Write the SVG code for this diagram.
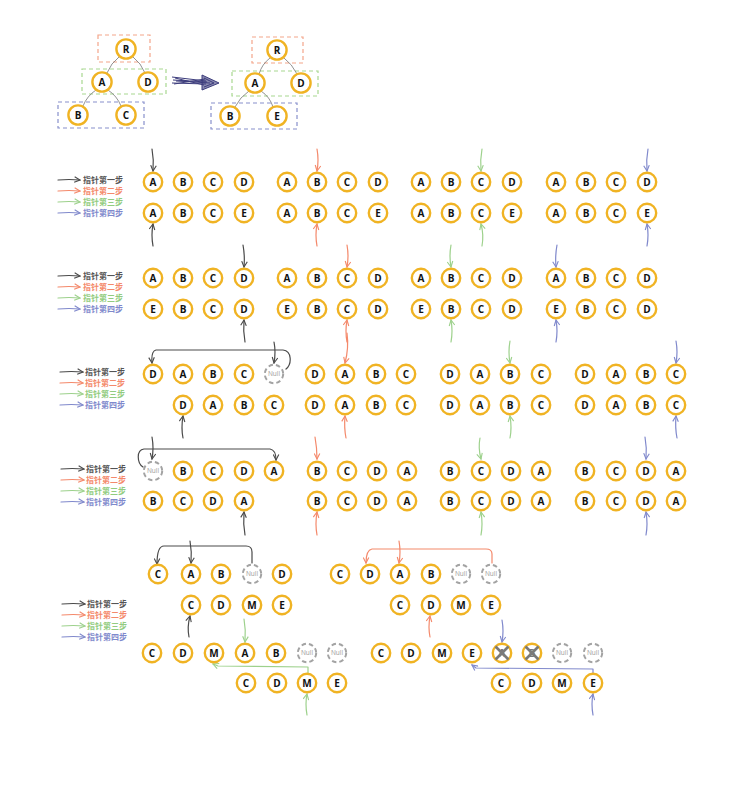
<svg xmlns="http://www.w3.org/2000/svg" width="745" height="785" viewBox="0 0 745 785">
<style>
.n circle{fill:#fff;stroke:#f0b323;stroke-width:2.4}
.n text{font-family:"Open Sans","Liberation Sans",sans-serif;font-weight:700;font-size:10px;text-anchor:middle;fill:#111}
.nl circle{fill:#fff;stroke:#a3a3a3;stroke-width:2;stroke-dasharray:4.5 3}
.nl text{font-family:"Open Sans","Liberation Sans",sans-serif;font-size:6.5px;text-anchor:middle;fill:#9a9a9a}
.nx line{stroke:#7a7a7a;stroke-width:2.6}
.nx text{fill:#777}
.p1,.p2,.p3,.p4{fill:none;stroke-width:1.2;stroke-linecap:round;stroke-linejoin:round}
.p1{stroke:#4a4a4a;marker-end:url(#m1)}
.p2{stroke:#f4896b;marker-end:url(#m2)}
.p3{stroke:#9dd18c;marker-end:url(#m3)}
.p4{stroke:#8089cc;marker-end:url(#m4)}
.lg text{font-family:"Noto Sans CJK SC","Noto Sans",sans-serif;font-size:8px;font-weight:700}
.t1{fill:#555}.t2{fill:#f4896b}.t3{fill:#92cc80}.t4{fill:#7f89cc}
.tl{fill:none;stroke:#777;stroke-width:0.8}
.bx{fill:none;stroke-width:1.2;stroke-dasharray:4 3}
</style>
<defs>
<marker id="m1" viewBox="0 0 10 10" refX="9" refY="5" markerWidth="7" markerHeight="7" markerUnits="userSpaceOnUse" orient="auto"><path d="M1,1 L9,5 L1,9" fill="none" stroke="#4a4a4a" stroke-width="1.6"/></marker>
<marker id="m2" viewBox="0 0 10 10" refX="9" refY="5" markerWidth="7" markerHeight="7" markerUnits="userSpaceOnUse" orient="auto"><path d="M1,1 L9,5 L1,9" fill="none" stroke="#f4896b" stroke-width="1.6"/></marker>
<marker id="m3" viewBox="0 0 10 10" refX="9" refY="5" markerWidth="7" markerHeight="7" markerUnits="userSpaceOnUse" orient="auto"><path d="M1,1 L9,5 L1,9" fill="none" stroke="#9dd18c" stroke-width="1.6"/></marker>
<marker id="m4" viewBox="0 0 10 10" refX="9" refY="5" markerWidth="7" markerHeight="7" markerUnits="userSpaceOnUse" orient="auto"><path d="M1,1 L9,5 L1,9" fill="none" stroke="#8089cc" stroke-width="1.6"/></marker>
</defs>
<rect width="745" height="785" fill="#fff"/>

<!-- trees -->
<g id="tree-left">
<rect class="bx" x="98" y="35" width="52" height="27" stroke="#f4a58a"/>
<rect class="bx" x="82" y="69" width="84" height="25" stroke="#a8d890"/>
<rect class="bx" x="58" y="102" width="86" height="26" stroke="#8890cc"/>
<path class="tl" d="M119,57 Q111,63 107,73 M133,57 Q141,63 145,73 M96,90 Q87,96 83,106 M108,90 Q117,96 121,106"/>
<g id="tl-R" class="n" transform="translate(126 49)"><circle r="9.6"/><text y="3.6">R</text></g>
<g id="tl-A" class="n" transform="translate(102 82)"><circle r="9.6"/><text y="3.6">A</text></g>
<g id="tl-D" class="n" transform="translate(148 82)"><circle r="9.6"/><text y="3.6">D</text></g>
<g id="tl-B" class="n" transform="translate(78 115)"><circle r="9.6"/><text y="3.6">B</text></g>
<g id="tl-C" class="n" transform="translate(126 115)"><circle r="9.6"/><text y="3.6">C</text></g>
</g>
<g id="big-arrow" fill="none" stroke="#3c3c7c" stroke-width="1">
<path d="M172,77 L206,81 M173,80 L207,82 M172,83 L206,84 M175,78 L204,85 M174,84 L205,79 M176,81 L210,83"/>
<path d="M202,75 L219,83 L202,90 Z M204,78 L214,83 L204,87" fill="#3c3c7c" fill-opacity="0.6"/>
</g>
<g id="tree-right">
<rect class="bx" x="252" y="37" width="51" height="26" stroke="#f4a58a"/>
<rect class="bx" x="232" y="71" width="86" height="25" stroke="#a8d890"/>
<rect class="bx" x="211" y="103" width="86" height="26" stroke="#8890cc"/>
<path class="tl" d="M270,58 Q262,64 259,74 M284,58 Q292,64 297,74 M249,91 Q240,97 235,107 M261,91 Q270,97 273,107"/>
<g id="tr-R" class="n" transform="translate(277 50)"><circle r="9.6"/><text y="3.6">R</text></g>
<g id="tr-A" class="n" transform="translate(255 83)"><circle r="9.6"/><text y="3.6">A</text></g>
<g id="tr-D" class="n" transform="translate(301 83)"><circle r="9.6"/><text y="3.6">D</text></g>
<g id="tr-B" class="n" transform="translate(230 116)"><circle r="9.6"/><text y="3.6">B</text></g>
<g id="tr-E" class="n" transform="translate(277 116)"><circle r="9.6"/><text y="3.6">E</text></g>
</g>

<!-- legends -->
<g id="legend1" class="lg" transform="translate(58 180)">
<path class="p1" d="M0,0 Q11,-1 22,0"/><text class="t1" x="25" y="3">指针第一步</text>
<path class="p2" d="M0,11 Q11,10 22,11"/><text class="t2" x="25" y="14">指针第二步</text>
<path class="p3" d="M0,22 Q11,21 22,22"/><text class="t3" x="25" y="25">指针第三步</text>
<path class="p4" d="M0,33 Q11,32 22,33"/><text class="t4" x="25" y="36">指针第四步</text>
</g>
<g id="legend2" class="lg" transform="translate(58 276)">
<path class="p1" d="M0,0 Q11,-1 22,0"/><text class="t1" x="25" y="3">指针第一步</text>
<path class="p2" d="M0,11 Q11,10 22,11"/><text class="t2" x="25" y="14">指针第二步</text>
<path class="p3" d="M0,22 Q11,21 22,22"/><text class="t3" x="25" y="25">指针第三步</text>
<path class="p4" d="M0,33 Q11,32 22,33"/><text class="t4" x="25" y="36">指针第四步</text>
</g>
<g id="legend3" class="lg" transform="translate(60 372)">
<path class="p1" d="M0,0 Q11,-1 23,0"/><text class="t1" x="25" y="3">指针第一步</text>
<path class="p2" d="M0,11 Q11,10 23,11"/><text class="t2" x="25" y="14">指针第二步</text>
<path class="p3" d="M0,22 Q11,21 23,22"/><text class="t3" x="25" y="25">指针第三步</text>
<path class="p4" d="M0,33 Q11,32 23,33"/><text class="t4" x="25" y="36">指针第四步</text>
</g>
<g id="legend4" class="lg" transform="translate(61 469)">
<path class="p1" d="M0,0 Q11,-1 23,0"/><text class="t1" x="25" y="3">指针第一步</text>
<path class="p2" d="M0,11 Q11,10 23,11"/><text class="t2" x="25" y="14">指针第二步</text>
<path class="p3" d="M0,22 Q11,21 23,22"/><text class="t3" x="25" y="25">指针第三步</text>
<path class="p4" d="M0,33 Q11,32 23,33"/><text class="t4" x="25" y="36">指针第四步</text>
</g>
<g id="legend5" class="lg" transform="translate(62 604)">
<path class="p1" d="M0,0 Q11,-1 23,0"/><text class="t1" x="25" y="3">指针第一步</text>
<path class="p2" d="M0,11 Q11,10 23,11"/><text class="t2" x="25" y="14">指针第二步</text>
<path class="p3" d="M0,22 Q11,21 23,22"/><text class="t3" x="25" y="25">指针第三步</text>
<path class="p4" d="M0,33 Q11,32 23,33"/><text class="t4" x="25" y="36">指针第四步</text>
</g>

<!-- connectors -->
<g id="connectors">
<path class="p1" d="M152,149 Q154,160 153,171"/><path class="p1" d="M153,246 Q151,235 153,224"/>
<path class="p2" d="M317,149 Q319,160 317,171"/><path class="p2" d="M317,246 Q315,235 317,224"/>
<path class="p3" d="M482,149 Q480,160 481,171"/><path class="p3" d="M482,246 Q484,235 481,224"/>
<path class="p4" d="M648,149 Q646,160 647,171"/><path class="p4" d="M647,246 Q649,235 647,224"/>

<path class="p1" d="M243,245 Q245,256 244,267"/><path class="p1" d="M245,342 Q243,331 244,320"/>
<path class="p2" d="M347,245 Q349,256 347,267"/><path class="p2" d="M347,342 Q345,331 347,320"/>
<path class="p3" d="M451,245 Q449,256 451,267"/><path class="p3" d="M451,342 Q453,331 451,320"/>
<path class="p4" d="M557,245 Q555,256 556,267"/><path class="p4" d="M556,342 Q558,331 556,320"/>

<path class="p1" d="M286,369 C292,364 292,351 283,350 L156,350 Q151,351 152,363"/>
<path class="p1" d="M274,342 Q276,352 274,363"/><path class="p1" d="M183,438 Q181,428 183,416"/>
<path class="p2" d="M347,333 Q349,348 345,363"/><path class="p2" d="M346,438 Q344,428 345,416"/>
<path class="p3" d="M510,341 Q508,352 510,363"/><path class="p3" d="M510,438 Q512,428 510,416"/>
<path class="p4" d="M676,341 Q678,352 676,363"/><path class="p4" d="M677,438 Q675,428 676,416"/>

<path class="p1" d="M143,467 C137,463 136,450 144,449 L270,449 Q276,450 276,460"/>
<path class="p1" d="M152,437 Q154,448 152,459"/><path class="p1" d="M245,535 Q243,524 244,512"/>
<path class="p2" d="M315,437 Q317,448 317,459"/><path class="p2" d="M317,535 Q315,524 317,512"/>
<path class="p3" d="M480,438 Q478,448 481,459"/><path class="p3" d="M481,535 Q483,524 481,512"/>
<path class="p4" d="M645,437 Q647,448 646,459"/><path class="p4" d="M646,535 Q648,524 646,512"/>

<path class="p1" d="M252,563 L252,552 Q252,546 246,546 L164,546 Q157,546 157,564"/>
<path class="p1" d="M190,541 Q192,552 191,563"/><path class="p1" d="M189,637 Q187,627 190,616"/>
<path class="p3" d="M244,619 Q246,630 245,642"/>
<path class="p3" d="M308,673 L308,667 L218,666 L213,664"/>
<path class="p3" d="M307,715 Q305,704 307,694"/>

<path class="p2" d="M492,563 L492,554 Q492,549 486,549 L372,549 Q366,550 366,563"/>
<path class="p2" d="M399,541 Q401,552 399,563"/><path class="p2" d="M430,637 Q428,627 430,616"/>
<path class="p4" d="M502,620 Q504,631 502,642"/>
<path class="p4" d="M593,673 L593,669 L476,668 L472,665"/>
<path class="p4" d="M593,715 Q591,704 593,694"/>
</g>

<!-- row 1 -->
<g id="r1a1" class="n" transform="translate(153 182)"><circle r="9.2"/><text y="3.6">A</text></g>
<g id="r1a2" class="n" transform="translate(183 182)"><circle r="9.2"/><text y="3.6">B</text></g>
<g id="r1a3" class="n" transform="translate(213 182)"><circle r="9.2"/><text y="3.6">C</text></g>
<g id="r1a4" class="n" transform="translate(244 182)"><circle r="9.2"/><text y="3.6">D</text></g>
<g id="r1b1" class="n" transform="translate(153 213)"><circle r="9.2"/><text y="3.6">A</text></g>
<g id="r1b2" class="n" transform="translate(183 213)"><circle r="9.2"/><text y="3.6">B</text></g>
<g id="r1b3" class="n" transform="translate(213 213)"><circle r="9.2"/><text y="3.6">C</text></g>
<g id="r1b4" class="n" transform="translate(244 213)"><circle r="9.2"/><text y="3.6">E</text></g>
<g id="r1c1" class="n" transform="translate(287 182)"><circle r="9.2"/><text y="3.6">A</text></g>
<g id="r1c2" class="n" transform="translate(317 182)"><circle r="9.2"/><text y="3.6">B</text></g>
<g id="r1c3" class="n" transform="translate(347 182)"><circle r="9.2"/><text y="3.6">C</text></g>
<g id="r1c4" class="n" transform="translate(378 182)"><circle r="9.2"/><text y="3.6">D</text></g>
<g id="r1d1" class="n" transform="translate(287 213)"><circle r="9.2"/><text y="3.6">A</text></g>
<g id="r1d2" class="n" transform="translate(317 213)"><circle r="9.2"/><text y="3.6">B</text></g>
<g id="r1d3" class="n" transform="translate(347 213)"><circle r="9.2"/><text y="3.6">C</text></g>
<g id="r1d4" class="n" transform="translate(378 213)"><circle r="9.2"/><text y="3.6">E</text></g>
<g id="r1e1" class="n" transform="translate(421 182)"><circle r="9.2"/><text y="3.6">A</text></g>
<g id="r1e2" class="n" transform="translate(451 182)"><circle r="9.2"/><text y="3.6">B</text></g>
<g id="r1e3" class="n" transform="translate(481 182)"><circle r="9.2"/><text y="3.6">C</text></g>
<g id="r1e4" class="n" transform="translate(512 182)"><circle r="9.2"/><text y="3.6">D</text></g>
<g id="r1f1" class="n" transform="translate(421 213)"><circle r="9.2"/><text y="3.6">A</text></g>
<g id="r1f2" class="n" transform="translate(451 213)"><circle r="9.2"/><text y="3.6">B</text></g>
<g id="r1f3" class="n" transform="translate(481 213)"><circle r="9.2"/><text y="3.6">C</text></g>
<g id="r1f4" class="n" transform="translate(512 213)"><circle r="9.2"/><text y="3.6">E</text></g>
<g id="r1g1" class="n" transform="translate(556 182)"><circle r="9.2"/><text y="3.6">A</text></g>
<g id="r1g2" class="n" transform="translate(586 182)"><circle r="9.2"/><text y="3.6">B</text></g>
<g id="r1g3" class="n" transform="translate(616 182)"><circle r="9.2"/><text y="3.6">C</text></g>
<g id="r1g4" class="n" transform="translate(647 182)"><circle r="9.2"/><text y="3.6">D</text></g>
<g id="r1h1" class="n" transform="translate(556 213)"><circle r="9.2"/><text y="3.6">A</text></g>
<g id="r1h2" class="n" transform="translate(586 213)"><circle r="9.2"/><text y="3.6">B</text></g>
<g id="r1h3" class="n" transform="translate(616 213)"><circle r="9.2"/><text y="3.6">C</text></g>
<g id="r1h4" class="n" transform="translate(647 213)"><circle r="9.2"/><text y="3.6">E</text></g>

<!-- row 2 -->
<g id="r2a1" class="n" transform="translate(153 278)"><circle r="9.2"/><text y="3.6">A</text></g>
<g id="r2a2" class="n" transform="translate(183 278)"><circle r="9.2"/><text y="3.6">B</text></g>
<g id="r2a3" class="n" transform="translate(213 278)"><circle r="9.2"/><text y="3.6">C</text></g>
<g id="r2a4" class="n" transform="translate(244 278)"><circle r="9.2"/><text y="3.6">D</text></g>
<g id="r2b1" class="n" transform="translate(153 309)"><circle r="9.2"/><text y="3.6">E</text></g>
<g id="r2b2" class="n" transform="translate(183 309)"><circle r="9.2"/><text y="3.6">B</text></g>
<g id="r2b3" class="n" transform="translate(213 309)"><circle r="9.2"/><text y="3.6">C</text></g>
<g id="r2b4" class="n" transform="translate(244 309)"><circle r="9.2"/><text y="3.6">D</text></g>
<g id="r2c1" class="n" transform="translate(287 278)"><circle r="9.2"/><text y="3.6">A</text></g>
<g id="r2c2" class="n" transform="translate(317 278)"><circle r="9.2"/><text y="3.6">B</text></g>
<g id="r2c3" class="n" transform="translate(347 278)"><circle r="9.2"/><text y="3.6">C</text></g>
<g id="r2c4" class="n" transform="translate(378 278)"><circle r="9.2"/><text y="3.6">D</text></g>
<g id="r2d1" class="n" transform="translate(287 309)"><circle r="9.2"/><text y="3.6">E</text></g>
<g id="r2d2" class="n" transform="translate(317 309)"><circle r="9.2"/><text y="3.6">B</text></g>
<g id="r2d3" class="n" transform="translate(347 309)"><circle r="9.2"/><text y="3.6">C</text></g>
<g id="r2d4" class="n" transform="translate(378 309)"><circle r="9.2"/><text y="3.6">D</text></g>
<g id="r2e1" class="n" transform="translate(421 278)"><circle r="9.2"/><text y="3.6">A</text></g>
<g id="r2e2" class="n" transform="translate(451 278)"><circle r="9.2"/><text y="3.6">B</text></g>
<g id="r2e3" class="n" transform="translate(481 278)"><circle r="9.2"/><text y="3.6">C</text></g>
<g id="r2e4" class="n" transform="translate(512 278)"><circle r="9.2"/><text y="3.6">D</text></g>
<g id="r2f1" class="n" transform="translate(421 309)"><circle r="9.2"/><text y="3.6">E</text></g>
<g id="r2f2" class="n" transform="translate(451 309)"><circle r="9.2"/><text y="3.6">B</text></g>
<g id="r2f3" class="n" transform="translate(481 309)"><circle r="9.2"/><text y="3.6">C</text></g>
<g id="r2f4" class="n" transform="translate(512 309)"><circle r="9.2"/><text y="3.6">D</text></g>
<g id="r2g1" class="n" transform="translate(556 278)"><circle r="9.2"/><text y="3.6">A</text></g>
<g id="r2g2" class="n" transform="translate(586 278)"><circle r="9.2"/><text y="3.6">B</text></g>
<g id="r2g3" class="n" transform="translate(616 278)"><circle r="9.2"/><text y="3.6">C</text></g>
<g id="r2g4" class="n" transform="translate(647 278)"><circle r="9.2"/><text y="3.6">D</text></g>
<g id="r2h1" class="n" transform="translate(556 309)"><circle r="9.2"/><text y="3.6">E</text></g>
<g id="r2h2" class="n" transform="translate(586 309)"><circle r="9.2"/><text y="3.6">B</text></g>
<g id="r2h3" class="n" transform="translate(616 309)"><circle r="9.2"/><text y="3.6">C</text></g>
<g id="r2h4" class="n" transform="translate(647 309)"><circle r="9.2"/><text y="3.6">D</text></g>

<!-- row 3 -->
<g id="r3a1" class="n" transform="translate(153 374)"><circle r="9.2"/><text y="3.6">D</text></g>
<g id="r3a2" class="n" transform="translate(183 374)"><circle r="9.2"/><text y="3.6">A</text></g>
<g id="r3a3" class="n" transform="translate(213 374)"><circle r="9.2"/><text y="3.6">B</text></g>
<g id="r3a4" class="n" transform="translate(244 374)"><circle r="9.2"/><text y="3.6">C</text></g>
<g id="r3a5" class="nl" transform="translate(274 374)"><circle r="9.2"/><text y="2.3">Null</text></g>
<g id="r3b1" class="n" transform="translate(183 405)"><circle r="9.2"/><text y="3.6">D</text></g>
<g id="r3b2" class="n" transform="translate(213 405)"><circle r="9.2"/><text y="3.6">A</text></g>
<g id="r3b3" class="n" transform="translate(244 405)"><circle r="9.2"/><text y="3.6">B</text></g>
<g id="r3b4" class="n" transform="translate(274 405)"><circle r="9.2"/><text y="3.6">C</text></g>
<g id="r3c1" class="n" transform="translate(315 374)"><circle r="9.2"/><text y="3.6">D</text></g>
<g id="r3c2" class="n" transform="translate(345 374)"><circle r="9.2"/><text y="3.6">A</text></g>
<g id="r3c3" class="n" transform="translate(376 374)"><circle r="9.2"/><text y="3.6">B</text></g>
<g id="r3c4" class="n" transform="translate(406 374)"><circle r="9.2"/><text y="3.6">C</text></g>
<g id="r3d1" class="n" transform="translate(315 405)"><circle r="9.2"/><text y="3.6">D</text></g>
<g id="r3d2" class="n" transform="translate(345 405)"><circle r="9.2"/><text y="3.6">A</text></g>
<g id="r3d3" class="n" transform="translate(376 405)"><circle r="9.2"/><text y="3.6">B</text></g>
<g id="r3d4" class="n" transform="translate(406 405)"><circle r="9.2"/><text y="3.6">C</text></g>
<g id="r3e1" class="n" transform="translate(450 374)"><circle r="9.2"/><text y="3.6">D</text></g>
<g id="r3e2" class="n" transform="translate(480 374)"><circle r="9.2"/><text y="3.6">A</text></g>
<g id="r3e3" class="n" transform="translate(510 374)"><circle r="9.2"/><text y="3.6">B</text></g>
<g id="r3e4" class="n" transform="translate(541 374)"><circle r="9.2"/><text y="3.6">C</text></g>
<g id="r3f1" class="n" transform="translate(450 405)"><circle r="9.2"/><text y="3.6">D</text></g>
<g id="r3f2" class="n" transform="translate(480 405)"><circle r="9.2"/><text y="3.6">A</text></g>
<g id="r3f3" class="n" transform="translate(510 405)"><circle r="9.2"/><text y="3.6">B</text></g>
<g id="r3f4" class="n" transform="translate(541 405)"><circle r="9.2"/><text y="3.6">C</text></g>
<g id="r3g1" class="n" transform="translate(585 374)"><circle r="9.2"/><text y="3.6">D</text></g>
<g id="r3g2" class="n" transform="translate(616 374)"><circle r="9.2"/><text y="3.6">A</text></g>
<g id="r3g3" class="n" transform="translate(646 374)"><circle r="9.2"/><text y="3.6">B</text></g>
<g id="r3g4" class="n" transform="translate(676 374)"><circle r="9.2"/><text y="3.6">C</text></g>
<g id="r3h1" class="n" transform="translate(585 405)"><circle r="9.2"/><text y="3.6">D</text></g>
<g id="r3h2" class="n" transform="translate(616 405)"><circle r="9.2"/><text y="3.6">A</text></g>
<g id="r3h3" class="n" transform="translate(646 405)"><circle r="9.2"/><text y="3.6">B</text></g>
<g id="r3h4" class="n" transform="translate(676 405)"><circle r="9.2"/><text y="3.6">C</text></g>

<!-- row 4 -->
<g id="r4a1" class="nl" transform="translate(153 471)"><circle r="9.2"/><text y="2.3">Null</text></g>
<g id="r4a2" class="n" transform="translate(183 471)"><circle r="9.2"/><text y="3.6">B</text></g>
<g id="r4a3" class="n" transform="translate(213 471)"><circle r="9.2"/><text y="3.6">C</text></g>
<g id="r4a4" class="n" transform="translate(244 471)"><circle r="9.2"/><text y="3.6">D</text></g>
<g id="r4a5" class="n" transform="translate(274 471)"><circle r="9.2"/><text y="3.6">A</text></g>
<g id="r4b1" class="n" transform="translate(153 501)"><circle r="9.2"/><text y="3.6">B</text></g>
<g id="r4b2" class="n" transform="translate(183 501)"><circle r="9.2"/><text y="3.6">C</text></g>
<g id="r4b3" class="n" transform="translate(213 501)"><circle r="9.2"/><text y="3.6">D</text></g>
<g id="r4b4" class="n" transform="translate(244 501)"><circle r="9.2"/><text y="3.6">A</text></g>
<g id="r4c1" class="n" transform="translate(317 471)"><circle r="9.2"/><text y="3.6">B</text></g>
<g id="r4c2" class="n" transform="translate(347 471)"><circle r="9.2"/><text y="3.6">C</text></g>
<g id="r4c3" class="n" transform="translate(377 471)"><circle r="9.2"/><text y="3.6">D</text></g>
<g id="r4c4" class="n" transform="translate(407 471)"><circle r="9.2"/><text y="3.6">A</text></g>
<g id="r4d1" class="n" transform="translate(317 501)"><circle r="9.2"/><text y="3.6">B</text></g>
<g id="r4d2" class="n" transform="translate(347 501)"><circle r="9.2"/><text y="3.6">C</text></g>
<g id="r4d3" class="n" transform="translate(377 501)"><circle r="9.2"/><text y="3.6">D</text></g>
<g id="r4d4" class="n" transform="translate(407 501)"><circle r="9.2"/><text y="3.6">A</text></g>
<g id="r4e1" class="n" transform="translate(450 471)"><circle r="9.2"/><text y="3.6">B</text></g>
<g id="r4e2" class="n" transform="translate(481 471)"><circle r="9.2"/><text y="3.6">C</text></g>
<g id="r4e3" class="n" transform="translate(511 471)"><circle r="9.2"/><text y="3.6">D</text></g>
<g id="r4e4" class="n" transform="translate(541 471)"><circle r="9.2"/><text y="3.6">A</text></g>
<g id="r4f1" class="n" transform="translate(450 501)"><circle r="9.2"/><text y="3.6">B</text></g>
<g id="r4f2" class="n" transform="translate(481 501)"><circle r="9.2"/><text y="3.6">C</text></g>
<g id="r4f3" class="n" transform="translate(511 501)"><circle r="9.2"/><text y="3.6">D</text></g>
<g id="r4f4" class="n" transform="translate(541 501)"><circle r="9.2"/><text y="3.6">A</text></g>
<g id="r4g1" class="n" transform="translate(585 471)"><circle r="9.2"/><text y="3.6">B</text></g>
<g id="r4g2" class="n" transform="translate(616 471)"><circle r="9.2"/><text y="3.6">C</text></g>
<g id="r4g3" class="n" transform="translate(646 471)"><circle r="9.2"/><text y="3.6">D</text></g>
<g id="r4g4" class="n" transform="translate(676 471)"><circle r="9.2"/><text y="3.6">A</text></g>
<g id="r4h1" class="n" transform="translate(585 501)"><circle r="9.2"/><text y="3.6">B</text></g>
<g id="r4h2" class="n" transform="translate(616 501)"><circle r="9.2"/><text y="3.6">C</text></g>
<g id="r4h3" class="n" transform="translate(646 501)"><circle r="9.2"/><text y="3.6">D</text></g>
<g id="r4h4" class="n" transform="translate(676 501)"><circle r="9.2"/><text y="3.6">A</text></g>

<!-- bottom left -->
<g id="bla1" class="n" transform="translate(158 574)"><circle r="9.2"/><text y="3.6">C</text></g>
<g id="bla2" class="n" transform="translate(191 574)"><circle r="9.2"/><text y="3.6">A</text></g>
<g id="bla3" class="n" transform="translate(221 574)"><circle r="9.2"/><text y="3.6">B</text></g>
<g id="bla4" class="nl" transform="translate(252 574)"><circle r="9.2"/><text y="2.3">Null</text></g>
<g id="bla5" class="n" transform="translate(282 574)"><circle r="9.2"/><text y="3.6">D</text></g>
<g id="blb1" class="n" transform="translate(191 605)"><circle r="9.2"/><text y="3.6">C</text></g>
<g id="blb2" class="n" transform="translate(221 605)"><circle r="9.2"/><text y="3.6">D</text></g>
<g id="blb3" class="n" transform="translate(252 605)"><circle r="9.2"/><text y="3.6">M</text></g>
<g id="blb4" class="n" transform="translate(282 605)"><circle r="9.2"/><text y="3.6">E</text></g>
<g id="blc1" class="n" transform="translate(152 653)"><circle r="9.2"/><text y="3.6">C</text></g>
<g id="blc2" class="n" transform="translate(183 653)"><circle r="9.2"/><text y="3.6">D</text></g>
<g id="blc3" class="n" transform="translate(214 653)"><circle r="9.2"/><text y="3.6">M</text></g>
<g id="blc4" class="n" transform="translate(245 653)"><circle r="9.2"/><text y="3.6">A</text></g>
<g id="blc5" class="n" transform="translate(276 653)"><circle r="9.2"/><text y="3.6">B</text></g>
<g id="blc6" class="nl" transform="translate(307 653)"><circle r="9.2"/><text y="2.3">Null</text></g>
<g id="blc7" class="nl" transform="translate(337 653)"><circle r="9.2"/><text y="2.3">Null</text></g>
<g id="bld1" class="n" transform="translate(246 683)"><circle r="9.2"/><text y="3.6">C</text></g>
<g id="bld2" class="n" transform="translate(277 683)"><circle r="9.2"/><text y="3.6">D</text></g>
<g id="bld3" class="n" transform="translate(307 683)"><circle r="9.2"/><text y="3.6">M</text></g>
<g id="bld4" class="n" transform="translate(337 683)"><circle r="9.2"/><text y="3.6">E</text></g>

<!-- bottom right -->
<g id="bra1" class="n" transform="translate(340 574)"><circle r="9.2"/><text y="3.6">C</text></g>
<g id="bra2" class="n" transform="translate(370 574)"><circle r="9.2"/><text y="3.6">D</text></g>
<g id="bra3" class="n" transform="translate(400 574)"><circle r="9.2"/><text y="3.6">A</text></g>
<g id="bra4" class="n" transform="translate(431 574)"><circle r="9.2"/><text y="3.6">B</text></g>
<g id="bra5" class="nl" transform="translate(461 574)"><circle r="9.2"/><text y="2.3">Null</text></g>
<g id="bra6" class="nl" transform="translate(491 574)"><circle r="9.2"/><text y="2.3">Null</text></g>
<g id="brb1" class="n" transform="translate(400 605)"><circle r="9.2"/><text y="3.6">C</text></g>
<g id="brb2" class="n" transform="translate(431 605)"><circle r="9.2"/><text y="3.6">D</text></g>
<g id="brb3" class="n" transform="translate(461 605)"><circle r="9.2"/><text y="3.6">M</text></g>
<g id="brb4" class="n" transform="translate(491 605)"><circle r="9.2"/><text y="3.6">E</text></g>
<g id="brc1" class="n" transform="translate(381 653)"><circle r="9.2"/><text y="3.6">C</text></g>
<g id="brc2" class="n" transform="translate(411 653)"><circle r="9.2"/><text y="3.6">D</text></g>
<g id="brc3" class="n" transform="translate(442 653)"><circle r="9.2"/><text y="3.6">M</text></g>
<g id="brc4" class="n" transform="translate(472 653)"><circle r="9.2"/><text y="3.6">E</text></g>
<g id="brc5" class="n nx" transform="translate(502 653)"><circle r="9.2"/><text y="3.6">A</text><line x1="-6.5" y1="-6.5" x2="6.5" y2="6.5"/><line x1="6.5" y1="-6.5" x2="-6.5" y2="6.5"/></g>
<g id="brc6" class="n nx" transform="translate(532 653)"><circle r="9.2"/><text y="3.6">B</text><line x1="-6.5" y1="-6.5" x2="6.5" y2="6.5"/><line x1="6.5" y1="-6.5" x2="-6.5" y2="6.5"/></g>
<g id="brc7" class="nl" transform="translate(562 653)"><circle r="9.2"/><text y="2.3">Null</text></g>
<g id="brc8" class="nl" transform="translate(593 653)"><circle r="9.2"/><text y="2.3">Null</text></g>
<g id="brd1" class="n" transform="translate(501 683)"><circle r="9.2"/><text y="3.6">C</text></g>
<g id="brd2" class="n" transform="translate(532 683)"><circle r="9.2"/><text y="3.6">D</text></g>
<g id="brd3" class="n" transform="translate(562 683)"><circle r="9.2"/><text y="3.6">M</text></g>
<g id="brd4" class="n" transform="translate(593 683)"><circle r="9.2"/><text y="3.6">E</text></g>
</svg>
